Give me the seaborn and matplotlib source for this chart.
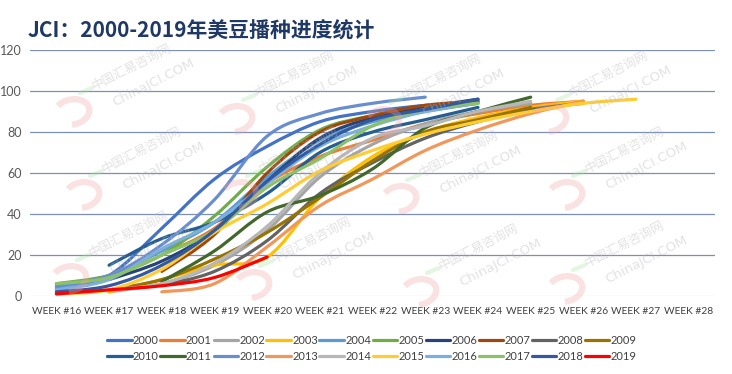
import numpy as np
import matplotlib
matplotlib.use("Agg")
import matplotlib.pyplot as plt
from matplotlib.path import Path
from matplotlib.patches import PathPatch, Arc
from matplotlib.lines import Line2D
import seaborn as sns

# ---- data (percent planted) ----
weeks = ["WEEK #16", "WEEK #17", "WEEK #18", "WEEK #19", "WEEK #20", "WEEK #21", "WEEK #22",
         "WEEK #23", "WEEK #24", "WEEK #25", "WEEK #26", "WEEK #27", "WEEK #28"]
years = ["2000", "2001", "2002", "2003", "2004", "2005", "2006", "2007", "2008", "2009",
         "2010", "2011", "2012", "2013", "2014", "2015", "2016", "2017", "2018", "2019"]
colors = ["#4472C4", "#ED7D31", "#A5A5A5", "#FFC000", "#5B9BD5", "#70AD47", "#264478",
          "#9E480E", "#636363", "#997300", "#255E91", "#43682B", "#698ED0", "#F1975A",
          "#B7B7B7", "#FFCD33", "#7CAFDD", "#8CC168", "#335AA1", "#FF0000"]

n = np.nan
p2000 = [3, 10, 33, 57, 73, 85, 90, 93, 95, n, n, n, n]
p2001 = [n, n, 20, 33, 55, 68, 76, 84, 89, 93, 95, n, n]
p2002 = [n, 2, 6, 15, 32, 58, 74, 84, 90, 94, n, n, n]
p2003 = [n, 2, 8, 15, 19, 48, 68, 80, 87, 92, 95, n, n]
p2004 = [4, 10, 22, 36, 58, 76, 85, 90, 94, n, n, n, n]
p2005 = [6, 10, 20, 39, 63, 81, 88, 92, 95, n, n, n, n]
p2006 = [n, 8, 17, 32, 56, 77, 87, 92, 96, n, n, n, n]
p2007 = [n, n, 12, 30, 60, 80, 88, 93, 95, n, n, n, n]
p2008 = [n, n, 5, 12, 27, 50, 65, 77, 85, 91, 94, n, n]
p2009 = [n, 3, 8, 18, 31, 48, 66, 80, 86, 92, n, n, n]
p2010 = [n, 15, 28, 36, 50, 70, 80, 86, 92, n, n, n, n]
p2011 = [n, n, 7, 22, 41, 49, 62, 82, 90, 97, n, n, n]
p2012 = [5, 10, 25, 47, 78, 89, 94, 97, n, n, n, n, n]
p2013 = [n, n, 2, 6, 24, 44, 57, 71, 81, 89, 95, n, n]
p2014 = [n, 3, 6, 16, 34, 60, 77, 83, 90, 95, n, n, n]
p2015 = [1, 3, 13, 31, 45, 61, 71, 79, 85, 90, 94, 96, n]
p2016 = [3, 8, 23, 36, 55, 73, 83, 90, 94, n, n, n, n]
p2017 = [6, 9, 20, 32, 53, 67, 83, 91, 94, n, n, n, n]
p2018 = [2, 5, 15, 32, 56, 74, 86, 91, 96, n, n, n, n]
p2019 = [1, 3, 5, 9, 19, n, n, n, n, n, n, n, n]

series = [p2000, p2001, p2002, p2003, p2004, p2005, p2006, p2007, p2008, p2009,
          p2010, p2011, p2012, p2013, p2014, p2015, p2016, p2017, p2018, p2019]


def smooth_path(xs, ys):
    # Excel-style smoothed line: cubic Bezier through the data points
    pts = np.column_stack([xs, ys])
    verts = [pts[0]]
    codes = [Path.MOVETO]
    for i in range(len(pts) - 1):
        p0 = pts[max(i - 1, 0)]
        p1 = pts[i]
        p2 = pts[i + 1]
        p3 = pts[min(i + 2, len(pts) - 1)]
        verts += [p1 + (p2 - p0) / 6, p2 - (p3 - p1) / 6, p2]
        codes += [Path.CURVE4] * 3
    return Path(verts, codes)


sns.set_theme(style="white")
plt.rcParams["font.family"] = ["Lato", "Noto Sans CJK SC", "DejaVu Sans"]

fig = plt.figure(figsize=(7.32, 3.74), dpi=100)
ax = fig.add_axes([0.041, 0.2086, 0.936, 0.6577])

for yr, col, vals in zip(years, colors, series):
    v = np.array(vals, dtype=float)
    idx = np.where(~np.isnan(v))[0]
    path = smooth_path(idx.astype(float), v[idx])
    ax.add_patch(PathPatch(path, facecolor="none", edgecolor=col, lw=2.3,
                           capstyle="round", joinstyle="round", zorder=3))

ax.set_xlim(-0.5, len(weeks) - 0.5)
ax.set_ylim(0, 120)
ax.set_xticks(range(len(weeks)))
ax.set_xticklabels(weeks, fontsize=7.4, color="#404040")
ax.set_yticks(range(0, 121, 20))
ax.tick_params(axis="y", labelsize=9, labelcolor="#595959", length=0, pad=6)
ax.tick_params(axis="x", length=0, pad=8)
for s in ax.spines.values():
    s.set_visible(False)
ax.yaxis.grid(True, color="#7b8fba", lw=0.9)
ax.xaxis.grid(False)
ax.get_ygridlines()[0].set_color("#d9d9d9")
ax.set_axisbelow(True)

# title
fig.text(0.038, 0.918, "JCI：2000-2019年美豆播种进度统计", fontsize=15, fontweight="bold",
         color="#1F3864", family=["Noto Sans CJK SC", "DejaVu Sans"], va="center", ha="left")

# watermarks
marks = [(90, 90), (253, 97), (400, 100), (567, 97),
         (100, 173), (257, 173), (417, 177), (583, 173),
         (87, 257), (270, 263), (437, 270), (583, 267)]
for mx, my in marks:
    fig.text(mx / 732, 1 - my / 374, "中国汇易咨询网", rotation=27, fontsize=9,
             color="#b8b8b8", alpha=0.4, family=["Noto Sans CJK SC"], zorder=10)
    fig.text((mx + 20) / 732, 1 - (my + 16) / 374, "ChinaJCI.COM", rotation=27,
             fontsize=9.5, color="#b8b8b8", alpha=0.4, family=["DejaVu Sans"], zorder=10)
    fig.patches.append(Arc(((mx - 18) / 732, 1 - (my + 22) / 374), 34 / 732, 26 / 374,
                           angle=-10, theta1=-80, theta2=150, color="#f4a0a0", lw=4.5,
                           alpha=0.3, transform=fig.transFigure, zorder=10))
    fig.lines.append(Line2D([(mx - 10) / 732, (mx + 2) / 732],
                            [1 - (my + 3) / 374, 1 - (my - 2) / 374],
                            color="#9fe39f", lw=3, alpha=0.3,
                            transform=fig.transFigure, zorder=10))

# legend, row-major order (matplotlib fills columns first)
handles = [Line2D([0], [0], color=c, lw=2.3) for c in colors]
order = [i + 10 * r for i in range(10) for r in range(2)]
fig.legend([handles[i] for i in order], [years[i] for i in order], loc="center",
           bbox_to_anchor=(0.508, 0.069), ncol=10, frameon=False, fontsize=8,
           handlelength=2.2, handletextpad=0.1, columnspacing=0.15,
           labelspacing=0.45, labelcolor="#404040")

fig.savefig("out.png", dpi=100)
